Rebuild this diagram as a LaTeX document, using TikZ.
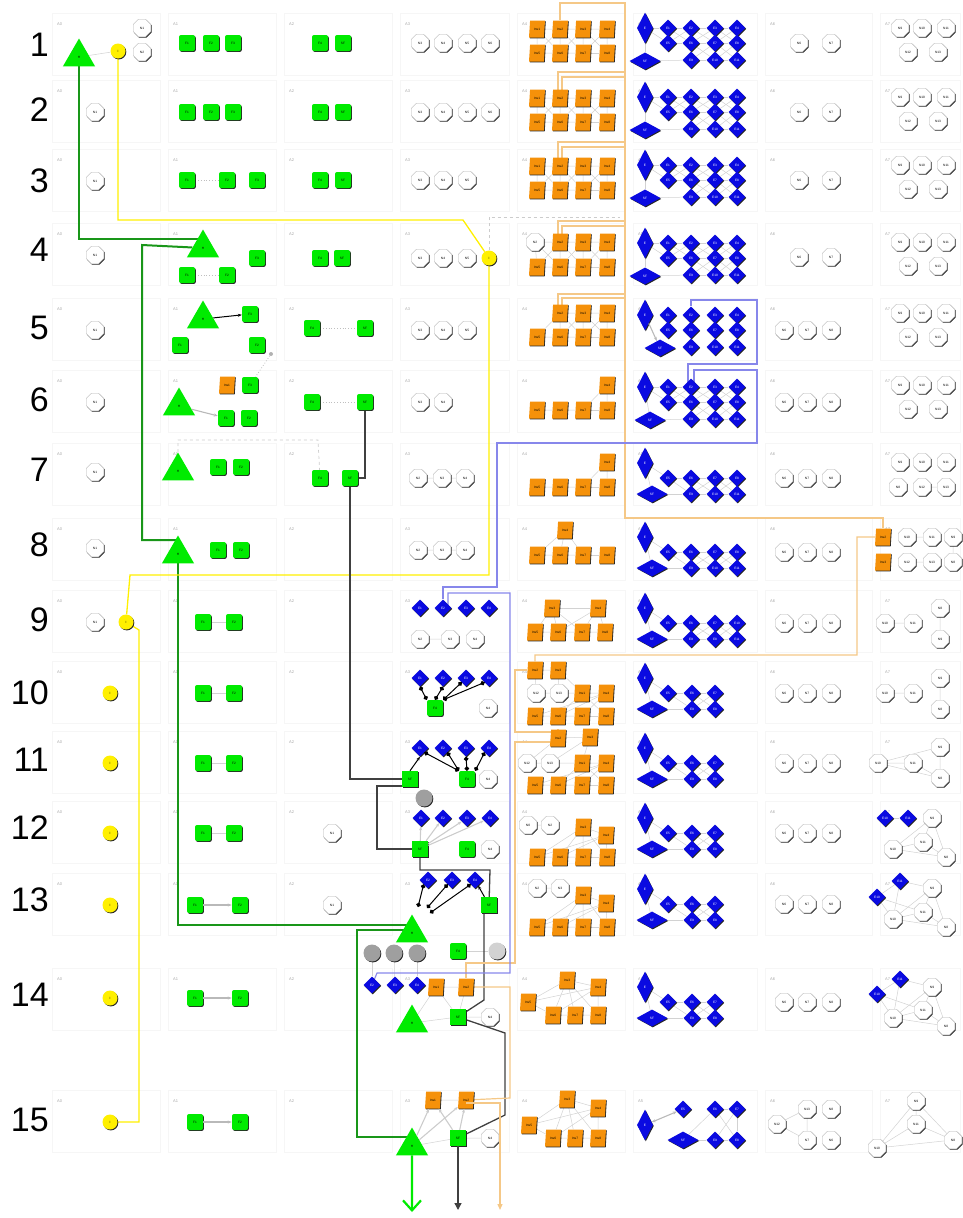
\documentclass[tikz,border=0pt]{standalone}
\usepackage{fontspec}
\setmainfont{Liberation Sans}
\usetikzlibrary{arrows.meta}
\usetikzlibrary{shapes.geometric}
\usetikzlibrary{shadows}

\definecolor{hgreen}{RGB}{0,235,0}
\definecolor{pathgreen}{RGB}{25,150,25}
\definecolor{iyellow}{RGB}{255,240,0}
\definecolor{insorange}{RGB}{245,145,10}
\definecolor{lorange}{RGB}{245,200,135}
\definecolor{eblue}{RGB}{10,10,225}
\definecolor{lblue}{RGB}{135,135,235}

\newcommand{\tinyfont}{\fontsize{3.2}{3.6}\selectfont}

\pgfdeclarelayer{bg}
\pgfsetlayers{bg,main}

\tikzset{
  shd/.style={drop shadow={shadow xshift=0.8pt,shadow yshift=-0.9pt,fill=black!85,opacity=1}},
  oct/.style={regular polygon,regular polygon sides=8,draw=gray!60,fill=white,minimum size=19pt,inner sep=0pt,font=\tinyfont,shd},
  fbox/.style={rectangle,rounded corners=2pt,fill=hgreen,minimum size=16pt,inner sep=0pt,font=\tinyfont,shd},
  ins/.style={trapezium,trapezium left angle=78,trapezium right angle=102,trapezium stretches=true,fill=insorange,minimum width=16pt,minimum height=17pt,inner sep=0pt,font=\tinyfont,shd},
  dia/.style={diamond,fill=eblue,text=white,minimum size=17pt,inner sep=0pt,font=\tinyfont,shd},
  ediam/.style={dia,aspect=0.5,minimum width=16pt,minimum height=31pt},
  sfdiam/.style={dia,aspect=2,minimum width=31pt,minimum height=17pt},
  hum/.style={regular polygon,regular polygon sides=3,fill=hgreen,minimum size=37pt,inner sep=0pt,font=\tinyfont},
  ibll/.style={circle,fill=iyellow,minimum size=15pt,inner sep=0pt,font=\tinyfont,shd},
  gball/.style={circle,fill=gray!75,minimum size=17pt,inner sep=0pt,shd},
  lball/.style={circle,fill=gray!35,minimum size=17pt,inner sep=0pt,shd},
  sdot/.style={circle,fill=gray!60,minimum size=4pt,inner sep=0pt},
  pframe/.style={draw=gray!7,line width=0.6pt},
  plab/.style={font=\fontsize{4}{4}\selectfont,text=gray!70,inner sep=0pt,anchor=west},
  rownum/.style={font=\fontsize{34}{34}\selectfont,anchor=east,inner sep=0pt},
  lnk/.style={draw=gray!35,line width=0.5pt},
  garr/.style={draw=gray!55,line width=1.1pt,-{Stealth[length=4pt]}},
  dotline/.style={draw=gray!50,line width=0.8pt,dotted},
  dashline/.style={draw=gray!40,line width=0.7pt,dashed},
  gpath/.style={draw=pathgreen,line width=2pt},
  garrow/.style={draw=hgreen,line width=2.2pt,-{Straight Barb[length=10pt,width=18pt]}},
  ypath/.style={draw=iyellow,line width=1.3pt},
  kpath/.style={draw=black!75,line width=1.3pt},
  karrow/.style={kpath,-{Triangle[length=7pt,width=7pt]}},
  karr/.style={draw=black,line width=1pt,-{Stealth[length=4pt]}},
  opath/.style={draw=lorange,line width=1.2pt},
  oarrow/.style={opath,-{Triangle[length=6pt,width=5pt]}},
  bpath/.style={draw=lblue,line width=1.1pt},
  lolli/.style={draw=black,line width=1pt,{Circle[length=4.5pt]}-{Circle[length=4.5pt]}}
}

\begin{document}
\begin{tikzpicture}[x=1pt,y=-1pt]
\useasboundingbox (0,0) rectangle (962,1218);

% row numbers
\foreach \rw/\cy in {1/45,2/110,3/181,4/250,5/328,6/400,7/470,8/545,9/620,10/693,11/760,12/828,13/900,14/995,15/1120}
  \node[rownum] (num\rw) at (49,\cy) {\rw};

%row 1
\node[hum] (r1h) at (79,57) {H};
\node[ibll] (r1i) at (118,51) {I};
\node[oct] (r1n1) at (142,28) {N1};
\node[oct] (r1n2) at (142,52) {N2};

%rows 1 and 2
\foreach \rw/\cy in {1/43,2/112}{
  \node[fbox] (r\rw f1) at (187,\cy) {F1};
  \node[fbox] (r\rw f2) at (211,\cy) {F2};
  \node[fbox] (r\rw f3) at (233,\cy) {F3};
  \node[fbox] (r\rw f4) at (320,\cy) {F4};
  \node[fbox] (r\rw sf) at (343,\cy) {SF};
  \node[oct] (r\rw n3) at (420,\cy) {N3};
  \node[oct] (r\rw n4) at (443,\cy) {N4};
  \node[oct] (r\rw n5) at (467,\cy) {N5};
  \node[oct] (r\rw n6) at (490,\cy) {N6};
}
\node[oct] (r2n1) at (95,112) {N1};

%row 3
\node[oct] (r3n1) at (95,181) {N1};
\node[fbox] (r3f1) at (187,180) {F1};
\node[fbox] (r3f2) at (227,180) {F2};
\node[fbox] (r3f3) at (257,180) {F3};
\node[fbox] (r3f4) at (320,180) {F4};
\node[fbox] (r3sf) at (343,180) {SF};
\node[oct] (r3n3) at (420,180) {N3};
\node[oct] (r3n4) at (443,180) {N4};
\node[oct] (r3n5) at (467,180) {N5};

%insulin blocks, rows 1-3
\foreach \rw/\cy in {1/43,2/112,3/180}{
  \node[ins] (r\rw ins1) at (537,\cy-14) {Ins1};
  \node[ins] (r\rw ins2) at (560,\cy-14) {Ins2};
  \node[ins] (r\rw ins3) at (583,\cy-14) {Ins3};
  \node[ins] (r\rw ins4) at (607,\cy-14) {Ins4};
  \node[ins] (r\rw ins5) at (537,\cy+10) {Ins5};
  \node[ins] (r\rw ins6) at (560,\cy+10) {Ins6};
  \node[ins] (r\rw ins7) at (583,\cy+10) {Ins7};
  \node[ins] (r\rw ins8) at (607,\cy+10) {Ins8};
}

%row 4
\node[oct] (r4n1) at (95,255) {N1};
\node[hum] (r4h) at (203,248) {H};
\node[fbox] (r4f1) at (187,275) {F1};
\node[fbox] (r4f2) at (227,275) {F2};
\node[fbox] (r4f3) at (257,258) {F3};
\node[fbox] (r4f4) at (320,258) {F4};
\node[fbox] (r4sf) at (342,258) {SF};
\node[oct] (r4n3) at (420,258) {N3};
\node[oct] (r4n4) at (443,258) {N4};
\node[oct] (r4n5) at (467,258) {N5};
\node[ibll] (r4i) at (489,258) {I};
\node[oct] (r4n2) at (535,242) {N2};
\node[ins] (r4ins2) at (560,242) {Ins2};
\node[ins] (r4ins3) at (583,242) {Ins3};
\node[ins] (r4ins4) at (607,242) {Ins4};
\node[ins] (r4ins5) at (537,267) {Ins5};
\node[ins] (r4ins6) at (560,267) {Ins6};
\node[ins] (r4ins7) at (583,267) {Ins7};
\node[ins] (r4ins8) at (607,267) {Ins8};

%row 5
\node[oct] (r5n1) at (95,330) {N1};
\node[hum] (r5h) at (203,319) {H};
\node[fbox] (r5f3) at (250,314) {F3};
\node[fbox] (r5f1) at (180,345) {F1};
\node[fbox] (r5f2) at (257,345) {F2};
\node[sdot] (r5dot) at (271,354) {};
\node[fbox] (r5f4) at (312,328) {F4};
\node[fbox] (r5sf) at (365,328) {SF};
\node[oct] (r5n3) at (420,330) {N3};
\node[oct] (r5n4) at (443,330) {N4};
\node[oct] (r5n5) at (467,330) {N5};
\node[ins] (r5ins2) at (560,313) {Ins2};
\node[ins] (r5ins3) at (583,313) {Ins3};
\node[ins] (r5ins4) at (607,313) {Ins4};
\node[ins] (r5ins5) at (537,337) {Ins5};
\node[ins] (r5ins6) at (560,337) {Ins6};
\node[ins] (r5ins7) at (583,337) {Ins7};
\node[ins] (r5ins8) at (607,337) {Ins8};

%row 6
\node[oct] (r6n1) at (95,402) {N1};
\node[ins] (r6ins1) at (227,385) {Ins1};
\node[fbox] (r6f3) at (250,385) {F3};
\node[hum] (r6h) at (179,406) {H};
\node[fbox] (r6f1) at (226,418) {F1};
\node[fbox] (r6f2) at (249,418) {F2};
\node[fbox] (r6f4) at (312,402) {F4};
\node[fbox] (r6sf) at (365,402) {SF};
\node[oct] (r6n3) at (420,402) {N3};
\node[oct] (r6n4) at (443,402) {N4};
\node[ins] (r6ins4) at (607,385) {Ins4};
\node[ins] (r6ins5) at (537,410) {Ins5};
\node[ins] (r6ins6) at (560,410) {Ins6};
\node[ins] (r6ins7) at (583,410) {Ins7};
\node[ins] (r6ins8) at (607,410) {Ins8};

%enzyme grids, rows 1-6
\foreach \rw/\cy/\sx in {1/43/645,2/112/645,3/180/645,4/258/645,5/330/660,6/402/650}{
  \node[ediam] (r\rw e) at (645,\cy-15) {E};
  \node[sfdiam] (r\rw esf) at (\sx,\cy+18) {SF};
  \node[dia] (r\rw e1) at (668,\cy-15) {E1};
  \node[dia] (r\rw e5) at (668,\cy) {E5};
  \node[dia] (r\rw e2) at (691,\cy-15) {E2};
  \node[dia] (r\rw e6) at (691,\cy) {E6};
  \node[dia] (r\rw e9) at (691,\cy+17) {E9};
  \node[dia] (r\rw e3) at (715,\cy-15) {E3};
  \node[dia] (r\rw e7) at (715,\cy) {E7};
  \node[dia] (r\rw e10) at (715,\cy+17) {E10};
  \node[dia] (r\rw e4) at (737,\cy-15) {E4};
  \node[dia] (r\rw e8) at (737,\cy) {E8};
  \node[dia] (r\rw e11) at (737,\cy+17) {E11};
}

%A6 and A7, rows 1-6
\foreach \rw/\cy in {1/43,2/112,3/180,4/257}{
  \node[oct] (r\rw q6) at (799,\cy) {N6};
  \node[oct] (r\rw q7) at (831,\cy) {N7};
}
\foreach \rw/\cy in {1/43,2/112,3/180,4/257,5/328,6/400}{
  \node[oct] (r\rw n9) at (900,\cy-15) {N9};
  \node[oct] (r\rw n10) at (922,\cy-15) {N10};
  \node[oct] (r\rw n11) at (946,\cy-15) {N11};
  \node[oct] (r\rw n12) at (908,\cy+9) {N12};
  \node[oct] (r\rw n13) at (938,\cy+9) {N13};
}
\foreach \rw/\cy in {5/330,6/402,7/478,8/552,9/623,10/693,11/763,12/833,13/904,14/1002}{
  \node[oct] (r\rw q6) at (784,\cy) {N6};
  \node[oct] (r\rw q7) at (807,\cy) {N7};
  \node[oct] (r\rw q8) at (831,\cy) {N8};
}

%row 7
\node[oct] (r7n1) at (95,472) {N1};
\node[hum] (r7h) at (178,471) {H};
\node[fbox] (r7f1) at (218,467) {F1};
\node[fbox] (r7f2) at (241,467) {F2};
\node[fbox] (r7f4) at (320,478) {F4};
\node[fbox] (r7sf) at (350,478) {SF};
\node[oct] (r7n2) at (418,478) {N2};
\node[oct] (r7n3) at (442,478) {N3};
\node[oct] (r7n4) at (465,478) {N4};
\node[ins] (r7ins4) at (607,462) {Ins4};
\node[ins] (r7ins5) at (537,487) {Ins5};
\node[ins] (r7ins6) at (560,487) {Ins6};
\node[ins] (r7ins7) at (583,487) {Ins7};
\node[ins] (r7ins8) at (607,487) {Ins8};
\node[oct] (r7n9) at (900,462) {N9};
\node[oct] (r7n10) at (922,462) {N10};
\node[oct] (r7n11) at (946,462) {N11};
\node[oct] (r7nq) at (898,487) {N8};
\node[oct] (r7n12) at (922,487) {N12};
\node[oct] (r7n13) at (946,487) {N13};

%row 8
\node[oct] (r8n1) at (95,548) {N1};
\node[hum] (r8h) at (178,554) {H};
\node[fbox] (r8f1) at (218,550) {F1};
\node[fbox] (r8f2) at (241,550) {F2};
\node[oct] (r8n2) at (418,550) {N2};
\node[oct] (r8n3) at (442,550) {N3};
\node[oct] (r8n4) at (465,550) {N4};
\node[ins] (r8ins4) at (565,530) {Ins4};
\node[ins] (r8ins5) at (537,555) {Ins5};
\node[ins] (r8ins6) at (560,555) {Ins6};
\node[ins] (r8ins7) at (583,555) {Ins7};
\node[ins] (r8ins8) at (607,555) {Ins8};
\node[ins] (r8ins2) at (883,537) {Ins2};
\node[ins] (r8ins3) at (883,562) {Ins3};
\node[oct] (r8n10) at (907,537) {N10};
\node[oct] (r8n11) at (932,537) {N11};
\node[oct] (r8n9) at (953,537) {N9};
\node[oct] (r8n12) at (907,562) {N12};
\node[oct] (r8n13) at (932,562) {N13};
\node[oct] (r8nq) at (953,562) {N8};

%enzyme grids, rows 7-9
\foreach \rw/\cy in {7/478,8/552}{
  \node[ediam] (r\rw e) at (645,\cy-15) {E};
  \node[sfdiam] (r\rw esf) at (652,\cy+16) {SF};
  \node[dia] (r\rw e5) at (668,\cy) {E5};
  \node[dia] (r\rw e6) at (691,\cy) {E6};
  \node[dia] (r\rw e7) at (715,\cy) {E7};
  \node[dia] (r\rw e8) at (737,\cy) {E8};
  \node[dia] (r\rw e9) at (691,\cy+16) {E9};
  \node[dia] (r\rw e10) at (715,\cy+16) {E10};
  \node[dia] (r\rw e11) at (737,\cy+16) {E11};
}
\node[ediam] (r9e) at (645,608) {E};
\node[sfdiam] (r9esf) at (652,639) {SF};
\node[dia] (r9e5) at (668,623) {E5};
\node[dia] (r9e6) at (691,623) {E6};
\node[dia] (r9e7) at (715,623) {E7};
\node[dia] (r9e10) at (737,623) {E10};
\node[dia] (r9e9) at (691,639) {E9};
\node[dia] (r9e8) at (715,639) {E8};
\node[dia] (r9e11) at (737,639) {E11};

%row 9
\node[oct] (r9n1) at (95,622) {N1};
\node[ibll] (r9i) at (126,622) {I};
\node[dia] (r9e1) at (420,608) {E1};
\node[dia] (r9e2) at (443,608) {E2};
\node[dia] (r9e3) at (466,608) {E3};
\node[dia] (r9e4) at (489,608) {E4};
\node[oct] (r9n2) at (420,639) {N2};
\node[oct] (r9n3) at (450,639) {N3};
\node[oct] (r9n4) at (475,639) {N4};
\node[ins] (r9ins3) at (552,608) {Ins3};
\node[ins] (r9ins4) at (598,608) {Ins4};
\node[ins] (r9ins5) at (535,632) {Ins5};
\node[ins] (r9ins6) at (558,632) {Ins6};
\node[ins] (r9ins7) at (582,632) {Ins7};
\node[ins] (r9ins8) at (605,632) {Ins8};
\node[oct] (r9n10) at (885,623) {N10};
\node[oct] (r9n11) at (913,623) {N11};
\node[oct] (r9nq) at (940,608) {N8};
\node[oct] (r9n9) at (940,639) {N9};

%yellow I and F1 F2, rows 9-15
\foreach \rw/\cy in {10/693,11/763,12/833,13/905,14/998,15/1122}
  \node[ibll] (r\rw i) at (110,\cy) {I};
\foreach \rw/\cy in {9/622,10/693,11/763,12/833}{
  \node[fbox] (r\rw f1) at (203,\cy) {F1};
  \node[fbox] (r\rw f2) at (234,\cy) {F2};
}
\foreach \rw/\cy in {13/905,14/998,15/1122}{
  \node[fbox] (r\rw f1) at (195,\cy) {F1};
  \node[fbox] (r\rw f2) at (240,\cy) {F2};
}

%enzyme grids, rows 10-14
\foreach \rw/\cy in {10/693,11/763,12/833,13/904,14/1002}{
  \node[ediam] (r\rw e) at (645,\cy-15) {E};
  \node[sfdiam] (r\rw esf) at (652,\cy+16) {SF};
  \node[dia] (r\rw e5) at (668,\cy) {E5};
  \node[dia] (r\rw e6) at (692,\cy) {E6};
  \node[dia] (r\rw e7) at (715,\cy) {E7};
  \node[dia] (r\rw e9) at (692,\cy+16) {E9};
  \node[dia] (r\rw e8) at (715,\cy+16) {E8};
}

%row 10
\node[dia] (r10e1) at (420,678) {E1};
\node[dia] (r10e2) at (443,678) {E2};
\node[dia] (r10e3) at (466,678) {E3};
\node[dia] (r10e4) at (489,678) {E4};
\node[fbox] (r10f4) at (435,708) {F4};
\node[oct] (r10n4) at (488,708) {N4};
\node[ins] (r10ins2) at (535,670) {Ins2};
\node[ins] (r10ins3) at (558,670) {Ins3};
\node[oct] (r10n12) at (536,693) {N12};
\node[oct] (r10n13) at (559,693) {N13};
\node[ins] (r10ins1) at (582,693) {Ins1};
\node[ins] (r10ins4) at (606,693) {Ins4};
\node[ins] (r10ins5) at (535,716) {Ins5};
\node[ins] (r10ins6) at (558,716) {Ins6};
\node[ins] (r10ins7) at (582,716) {Ins7};
\node[ins] (r10ins8) at (606,716) {Ins8};
\node[oct] (r10n10) at (885,693) {N10};
\node[oct] (r10n11) at (913,693) {N11};
\node[oct] (r10n9) at (940,678) {N9};
\node[oct] (r10nq) at (940,709) {N8};

%row 11
\node[dia] (r11e1) at (420,748) {E1};
\node[dia] (r11e2) at (443,748) {E2};
\node[dia] (r11e3) at (466,748) {E3};
\node[dia] (r11e4) at (489,748) {E4};
\node[fbox,rounded corners=0pt] (r11sf) at (410,779) {SF};
\node[fbox] (r11f4) at (467,779) {F4};
\node[oct] (r11n4) at (488,779) {N4};
\node[gball] (r11ball) at (424,798) {};
\node[ins] (r11ins2) at (558,738) {Ins2};
\node[ins] (r11ins3) at (590,737) {Ins3};
\node[oct] (r11n12) at (527,763) {N12};
\node[oct] (r11n13) at (550,763) {N13};
\node[ins] (r11ins1) at (582,763) {Ins1};
\node[ins] (r11ins4) at (606,763) {Ins4};
\node[ins] (r11ins5) at (535,785) {Ins5};
\node[ins] (r11ins6) at (558,785) {Ins6};
\node[ins] (r11ins7) at (582,785) {Ins7};
\node[ins] (r11ins8) at (606,785) {Ins8};
\node[oct] (r11n10) at (878,763) {N10};
\node[oct] (r11n11) at (913,763) {N11};
\node[oct] (r11n9) at (940,747) {N9};
\node[oct] (r11nq) at (940,778) {N8};

%row 12
\node[oct] (r12n1) at (332,833) {N1};
\node[dia] (r12e1) at (421,818) {E1};
\node[dia] (r12e2) at (443,818) {E2};
\node[dia] (r12e3) at (467,818) {E3};
\node[dia] (r12e4) at (490,818) {E4};
\node[fbox,rounded corners=0pt] (r12sf) at (420,849) {SF};
\node[fbox] (r12f4) at (467,849) {F4};
\node[oct] (r12n4) at (490,849) {N4};
\node[oct] (r12n0) at (528,825) {N0};
\node[oct] (r12n2) at (550,825) {N2};
\node[ins] (r12ins3) at (583,827) {Ins3};
\node[ins] (r12ins4) at (606,835) {Ins4};
\node[ins] (r12ins5) at (537,857) {Ins5};
\node[ins] (r12ins6) at (560,857) {Ins6};
\node[ins] (r12ins7) at (583,857) {Ins7};
\node[ins] (r12ins8) at (607,857) {Ins8};
\node[dia] (r12e10) at (885,818) {E10};
\node[dia] (r12e11) at (908,818) {E11};
\node[oct] (r12n9) at (932,818) {N9};
\node[oct] (r12n11) at (923,842) {N11};
\node[oct] (r12n10) at (893,849) {N10};
\node[oct] (r12nq) at (946,857) {N8};

%row 13
\node[oct] (r13n1) at (332,905) {N1};
\node[dia] (r13e2) at (428,880) {E2};
\node[dia] (r13e3) at (452,880) {E3};
\node[dia] (r13e4) at (475,880) {E4};
\node[fbox,rounded corners=0pt] (r13sf) at (489,905) {SF};
\node[hum] (r13h) at (412,933) {H};
\node[fbox] (r13f4) at (458,951) {F4};
\node[lball] (r13ball4) at (497,951) {};
\node[gball] (r13ball1) at (372,953) {};
\node[gball] (r13ball2) at (394,953) {};
\node[gball] (r13ball3) at (417,953) {};
\coordinate (r13la) at (418,907);
\coordinate (r13lb) at (427,908);
\coordinate (r13lc) at (430,913);
\node[oct] (r13n2) at (537,888) {N2};
\node[oct] (r13n3) at (560,888) {N3};
\node[ins] (r13ins3) at (583,895) {Ins3};
\node[ins] (r13ins4) at (606,903) {Ins4};
\node[ins] (r13ins5) at (537,927) {Ins5};
\node[ins] (r13ins6) at (560,927) {Ins6};
\node[ins] (r13ins7) at (583,927) {Ins7};
\node[ins] (r13ins8) at (607,927) {Ins8};
\node[dia] (r13e10) at (877,897) {E10};
\node[dia] (r13e11) at (900,881) {E11};
\node[oct] (r13n9) at (932,888) {N9};
\node[oct] (r13n11) at (923,912) {N11};
\node[oct] (r13n10) at (893,919) {N10};
\node[oct] (r13nq) at (946,927) {N8};

%row 14
\node[dia] (r14e2) at (372,985) {E2};
\node[dia] (r14e3) at (395,985) {E3};
\node[dia] (r14e4) at (417,985) {E4};
\node[ins] (r14ins1) at (436,987) {Ins1};
\node[ins] (r14ins2) at (466,987) {Ins2};
\node[hum] (r14h) at (412,1023) {H};
\node[fbox,rounded corners=0pt] (r14sf) at (458,1017) {SF};
\node[oct] (r14n4) at (490,1017) {N4};
\node[ins] (r14ins3) at (567,980) {Ins3};
\node[ins] (r14ins4) at (598,987) {Ins4};
\node[ins] (r14ins5) at (528,1002) {Ins5};
\node[ins] (r14ins6) at (553,1015) {Ins6};
\node[ins] (r14ins7) at (575,1015) {Ins7};
\node[ins] (r14ins8) at (598,1015) {Ins8};
\node[dia] (r14e10) at (877,994) {E10};
\node[dia] (r14e11) at (900,979) {E11};
\node[oct] (r14n9) at (932,987) {N9};
\node[oct] (r14n11) at (923,1010) {N11};
\node[oct] (r14n10) at (893,1018) {N10};
\node[oct] (r14nq) at (946,1026) {N8};

%row 15
\node[ins] (r15ins1) at (433,1100) {Ins1};
\node[ins] (r15ins2) at (466,1100) {Ins2};
\node[hum] (r15h) at (412,1146) {H};
\node[fbox,rounded corners=0pt] (r15sf) at (458,1138) {SF};
\node[oct] (r15n4) at (490,1138) {N4};
\node[ins] (r15ins3) at (567,1099) {Ins3};
\node[ins] (r15ins4) at (598,1108) {Ins4};
\node[ins] (r15ins5) at (529,1125) {Ins5};
\node[ins] (r15ins6) at (553,1138) {Ins6};
\node[ins] (r15ins7) at (575,1138) {Ins7};
\node[ins] (r15ins8) at (598,1138) {Ins8};
\node[ediam] (r15e) at (645,1125) {E};
\node[dia] (r15e5) at (683,1109) {E5};
\node[dia] (r15e6) at (715,1109) {E6};
\node[dia] (r15e7) at (737,1109) {E7};
\node[sfdiam] (r15esf) at (683,1140) {SF};
\node[dia] (r15e9) at (715,1140) {E9};
\node[dia] (r15e8) at (737,1140) {E8};
\node[oct] (r15q13) at (807,1109) {N13};
\node[oct] (r15q8) at (831,1109) {N8};
\node[oct] (r15q12) at (777,1124) {N12};
\node[oct] (r15q7) at (807,1140) {N7};
\node[oct] (r15q6) at (831,1140) {N6};
\node[oct] (r15n9) at (916,1101) {N9};
\node[oct] (r15n11) at (916,1124) {N11};
\node[oct] (r15n10) at (877,1148) {N10};
\node[oct] (r15nq) at (953,1140) {N8};

\coordinate (gout) at (412,1212);
\coordinate (kout) at (458,1210);
\coordinate (oout) at (500,1210);

\begin{pgfonlayer}{bg}
% panel frames
\foreach \rw/\cy in {1/45,2/112,3/181,4/255,5/330,6/402,7/475,8/550,9/622,10/693,11/763,12/833,13/905,14/1000,15/1122}{
  \foreach \xa/\xb/\lab in {52/160/A0,168/276/A1,284/392/A2,400/509/A3,517/625/A4,633/757/A5,765/872/A6,880/960/A7}{
    \draw[pframe] (\xa,\cy-32) rectangle (\xb,\cy+30);
    \node[plab] (lab\rw\lab) at (\xa+5,\cy-21) {\lab};
  }
}

% links inside the panels
\draw[lnk] (r1h) -- (r1i);
\foreach \rw in {1,2,3}
  \foreach \a/\b in {ins1/ins2,ins2/ins3,ins3/ins4,ins5/ins6,ins6/ins7,ins7/ins8,ins1/ins5,ins2/ins6,ins3/ins7,ins4/ins8,ins1/ins6,ins2/ins5,ins2/ins7,ins3/ins6,ins3/ins8,ins4/ins7}
    \draw[lnk] (r\rw\a) -- (r\rw\b);
\foreach \a/\b in {n2/ins2,ins2/ins3,ins3/ins4,ins5/ins6,ins6/ins7,ins7/ins8,n2/ins5,ins2/ins6,ins3/ins7,ins4/ins8,n2/ins6,ins2/ins5,ins2/ins7,ins3/ins6,ins3/ins8,ins4/ins7}
  \draw[lnk] (r4\a) -- (r4\b);
\foreach \a/\b in {ins2/ins3,ins3/ins4,ins5/ins6,ins6/ins7,ins7/ins8,ins2/ins6,ins3/ins7,ins4/ins8,ins2/ins5,ins2/ins7,ins3/ins6,ins3/ins8,ins4/ins7}
  \draw[lnk] (r5\a) -- (r5\b);
\foreach \rw in {6,7}
  \foreach \a/\b in {ins4/ins8,ins5/ins6,ins6/ins7,ins7/ins8,ins4/ins7}
    \draw[lnk] (r\rw\a) -- (r\rw\b);
\foreach \a/\b in {ins4/ins5,ins4/ins6,ins4/ins7,ins5/ins6,ins6/ins7,ins7/ins8}
  \draw[lnk] (r8\a) -- (r8\b);
\foreach \a/\b in {ins3/ins4,ins3/ins5,ins3/ins6,ins3/ins7,ins4/ins6,ins4/ins7,ins4/ins8,ins5/ins6,ins6/ins7,ins7/ins8}
  \draw[lnk] (r9\a) -- (r9\b);
\foreach \rw in {10,11}
  \foreach \a/\b in {ins2/ins3,n12/n13,n13/ins1,ins1/ins4,ins5/ins6,ins6/ins7,ins7/ins8,ins2/n12,ins3/n13,ins3/ins1,ins1/ins6,ins4/ins6,ins4/ins7,ins1/ins8,ins4/ins5}
    \draw[lnk] (r\rw\a) -- (r\rw\b);
\foreach \rw in {12,13,14,15}
  \foreach \a/\b in {ins3/ins4,ins3/ins5,ins3/ins6,ins3/ins7,ins3/ins8,ins4/ins5,ins4/ins6,ins4/ins8,ins6/ins7,ins7/ins8,ins5/ins6}
    \draw[lnk] (r\rw\a) -- (r\rw\b);
\draw[lnk] (r12n0) -- (r12n2);
\draw[lnk] (r13n2) -- (r13n3);

\foreach \rw in {1,2,3,4,6}
  \foreach \a/\b in {e1/e2,e2/e3,e3/e4,e5/e6,e6/e7,e7/e8,e9/e10,e10/e11,e1/e6,e5/e2,e2/e7,e6/e3,e3/e8,e7/e4,e6/e10,e9/e7,e7/e11,e10/e8,e/e1,e/e5,esf/e9,e/esf}
    \draw[lnk] (r\rw\a) -- (r\rw\b);
\foreach \rw in {7,8}
  \foreach \a/\b in {e5/e6,e6/e7,e7/e8,e9/e10,e10/e11,e6/e10,e9/e7,e7/e11,e10/e8,e/e5,esf/e9,e/esf,e5/e9}
    \draw[lnk] (r\rw\a) -- (r\rw\b);
\foreach \a/\b in {e5/e6,e6/e7,e7/e10,e9/e8,e8/e11,e6/e8,e9/e7,e7/e11,e8/e10,e/e5,esf/e9,e/esf}
  \draw[lnk] (r9\a) -- (r9\b);
\foreach \rw in {10,11,12,13,14}
  \foreach \a/\b in {e5/e6,e6/e7,e9/e8,e5/e9,e6/e8,e9/e7,e/e5,esf/e9,e/esf}
    \draw[lnk] (r\rw\a) -- (r\rw\b);
\foreach \a/\b in {e6/e7,esf/e9,e9/e8,e6/e8,e7/e9,e7/e8,esf/e6}
  \draw[lnk] (r15\a) -- (r15\b);

\draw[lnk] (r7n12) -- (r7n13);
\foreach \a/\b in {n10/n11,n12/n13,n9/nq}
  \draw[lnk] (r8\a) -- (r8\b);
\foreach \rw in {9,10}
  \foreach \a/\b in {n10/n11,n9/nq}
    \draw[lnk] (r\rw\a) -- (r\rw\b);
\foreach \a/\b in {n10/n9,n10/nq,n10/n11,n9/nq,n11/nq}
  \draw[lnk] (r11\a) -- (r11\b);
\foreach \rw in {12,13,14}
  \foreach \a/\b in {e10/e11,n9/n10,n9/nq,n10/n11,n10/nq,n11/nq,n9/n11}
    \draw[lnk] (r\rw\a) -- (r\rw\b);
\foreach \rw in {13,14}
  \foreach \a/\b in {e10/n10,e11/n9,e11/n10,e10/n11}
    \draw[lnk] (r\rw\a) -- (r\rw\b);
\foreach \a/\b in {n9/n11,n9/n10,n9/nq,n10/n11,n11/nq,n10/nq}
  \draw[lnk] (r15\a) -- (r15\b);
\foreach \a/\b in {q12/q13,q12/q7,q13/q7}
  \draw[lnk] (r15\a) -- (r15\b);

\foreach \rw in {7,8}
  \foreach \a/\b in {n2/n3,n3/n4}
    \draw[lnk] (r\rw\a) -- (r\rw\b);
\draw[lnk] (r9n2) -- (r9n3);
\foreach \rw in {9,10,11,12}
  \draw[lnk] (r\rw f1) -- (r\rw f2);
\draw[lnk] (r13f4) -- (r13ball4);
\draw[lnk] (r13ball1) -- (r14e2);
\draw[lnk] (r13ball2) -- (r14e3);
\draw[lnk] (r13ball3) -- (r14e4);
\foreach \a/\b in {ins1/ins2,ins1/h,ins2/sf,ins1/sf,h/sf,sf/n4}
  \draw[lnk] (r14\a) -- (r14\b);
\foreach \a/\b in {ins1/ins2,h/sf,sf/n4}
  \draw[lnk] (r15\a) -- (r15\b);

% dotted and dashed links
\draw[dotline] (r3f1) -- (r3f2);
\draw[dotline] (r4f1) -- (r4f2);
\draw[dotline] (r5f4) -- (r5sf);
\draw[dotline] (r6f4) -- (r6sf);
\draw[dotline] (r5dot) -- (r6f3);
\draw[dashline] (r4i) |- (620,217);
\draw[dashline] (r7h) |- (318,440) -- (r7f4);

% green route
\draw[gpath] (r1h) |- ([yshift=9pt]r4h.center);
\draw[gpath] (r4h) -- (142,245) |- ([yshift=14pt]r8h.center);
\draw[gpath] (r8h) |- ([yshift=8pt]r13h.center);
\draw[gpath] ([yshift=3pt]r13h.center) -| (357,1137) -- ([yshift=9pt]r15h.center);

% yellow route
\draw[ypath] (r1i) |- (463,220) -- (r4i);
\draw[ypath] (r4i) |- (130,575) -- (r9i);
\draw[ypath] (r9i) -- (139,630) |- (r15i);

% black route
\draw[kpath] (r6sf) |- (r7sf);
\draw[kpath] (r7sf) |- (r11sf);
\draw[kpath] ([yshift=-7pt]r11sf.center) -| (377,849) -- (r12sf);
\draw[kpath] (r12sf) |- (490,870) -- (r13sf);
\draw[kpath] ([xshift=-5pt]r13sf.center) -- (484,1000) -- (r14sf);
\draw[kpath] (r14sf) -- (505,1033) -- (505,1115) -- (r15sf);

% orange route
\draw[opath] (r1ins2) |- (625,3) -- (625,518) -| (r8ins2);
\foreach \rw/\ya/\yb in {2/72/77,3/142/147,4/221/226,5/294/298}{
  \draw[opath] ([xshift=-2pt]r\rw ins2.center) |- (625,\ya);
  \draw[opath] ([xshift=2pt]r\rw ins2.center) |- (625,\yb);
}
\draw[opath] (r8ins2) -- (857,537) |- (535,655) -- (r10ins2);
\draw[opath] (r10ins2) -| (515,732) -| (r11ins2);
\draw[opath] ([yshift=-4pt]r11ins2.center) -| (515,963) -| (r14ins2);
\draw[opath] (r14ins2) -| (510,1098) -- (r15ins2);

% blue route
\draw[bpath] (r5e2) |- (757,300) |- (688,364) -- ([xshift=-3pt]r6e2.center);
\draw[bpath] ([xshift=3pt]r6e2.center) |- (757,370) |- (497,443) |- (443,587) -- (r9e2);
\draw[bpath] ([xshift=5pt]r9e2.center) |- (510,593) |- (377,973) -- (r14e2);
\end{pgfonlayer}

% arrows and lollipops
\draw[karr] (r5h) -- (r5f3);
\draw[garr] (r6h) -- (r6f1);
\draw[garr] (r5e) -- (r5esf);
\draw[garr,{Stealth[length=4pt]}-{Stealth[length=4pt]}] (r15e) -- (r15e5);
\foreach \rw in {13,14,15}
  \draw[garr] (r\rw f1) -- (r\rw f2);
\foreach \k in {1,2,3,4}
  \draw[garr,draw=gray!40] (r12sf) -- (r12e\k);
\draw[garr,draw=gray!40] (r15h) -- (r15ins1);
\draw[garr,draw=gray!40] (r15h) -- (r15ins2);
\draw[garr,draw=gray!40] (r15sf) -- (r15ins1);
\draw[garr,draw=gray!40] (r15sf) -- (r15ins2);

\draw[lolli] (r10f4.north west) -- (r10e1.south);
\draw[lolli] (r10f4.north) -- (r10e2.south);
\draw[lolli] (r10f4.north east) -- (r10e3.south west);
\draw[lolli] (r10f4.north east) -- (r10e4.south west);
\draw[lolli] (r11f4.north west) -- (r11e1.south east);
\draw[lolli] (r11f4.north west) -- (r11e2.south east);
\draw[lolli] (r11f4.north) -- (r11e3.south);
\draw[lolli] (r11f4.north east) -- (r11e4.south west);
\draw[karr] (r11sf.north) -- (r11e1.south);
\draw[lolli] (r13la) -- (r13e2.south west);
\draw[lolli] (r13lb) -- (r13e3.south west);
\draw[lolli] (r13lc) -- (r13e4.south west);
\draw[karr] (r13sf) -- (r13e4);

\draw[garrow] (r15h.south) -- (gout);
\draw[karrow] (r15sf.south) -- (kout);
\draw[oarrow] ([yshift=-3pt]r15ins2.center) -| (oout);

\end{tikzpicture}
\end{document}
